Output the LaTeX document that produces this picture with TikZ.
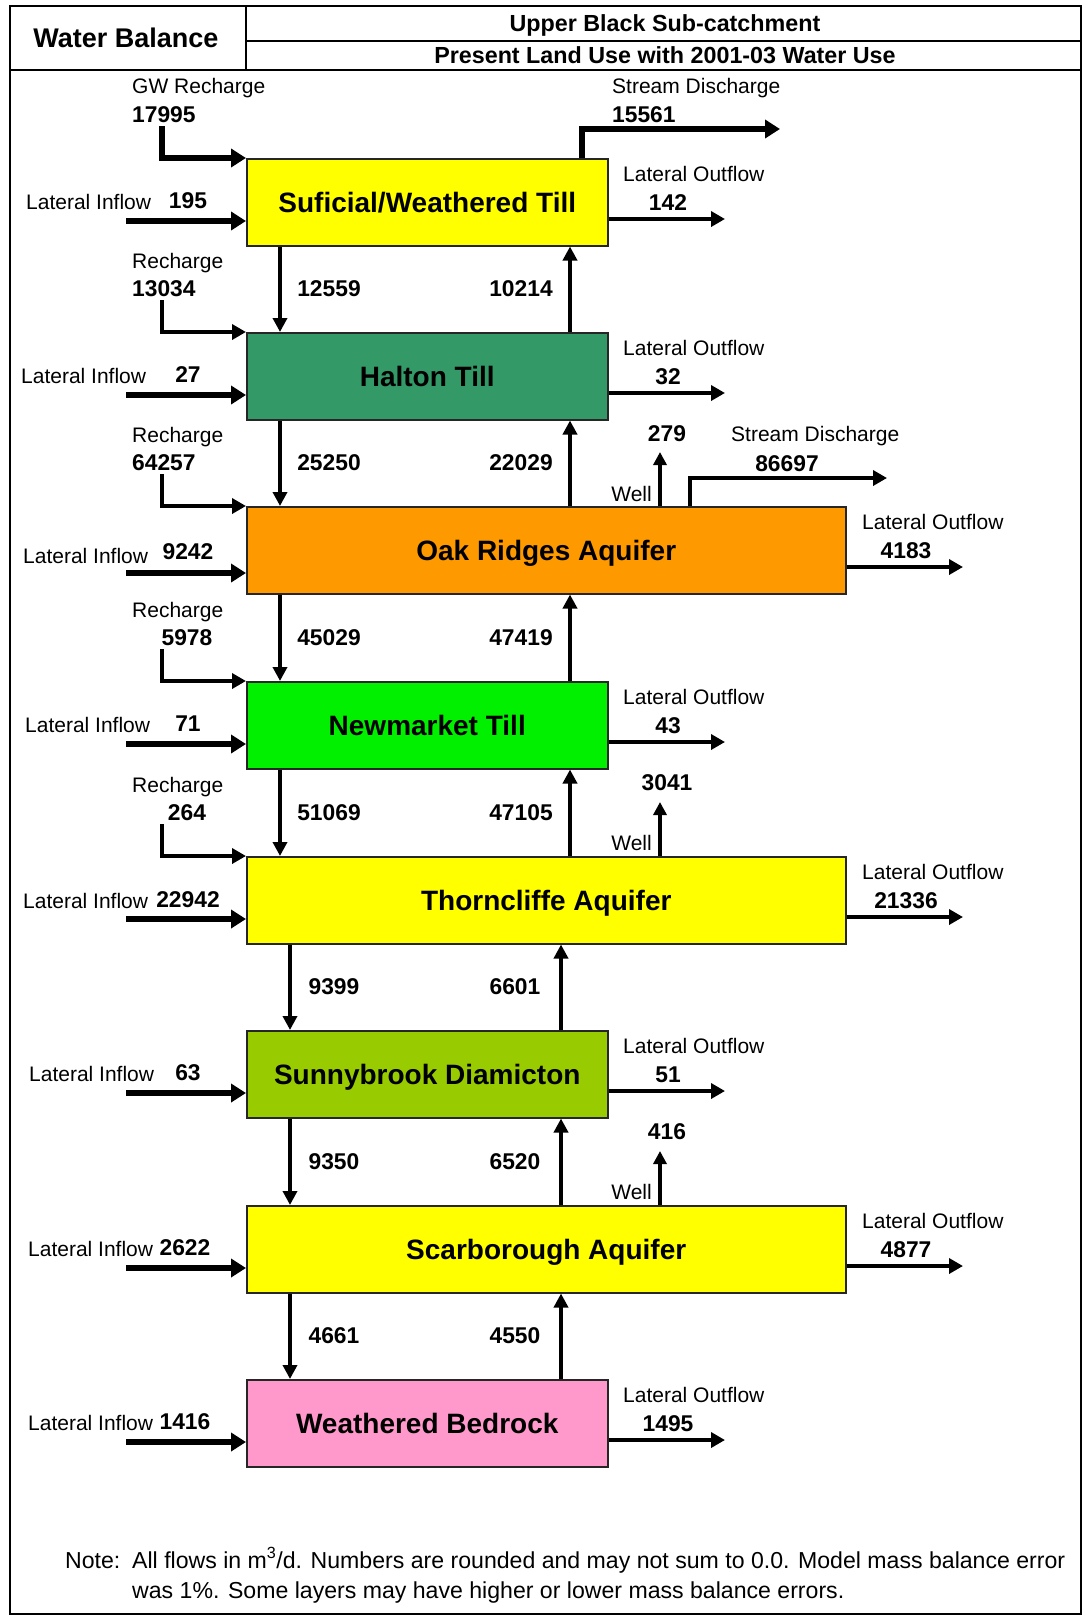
\documentclass[tikz,border=0pt]{standalone}
\usepackage{fontspec}
\setmainfont{Liberation Sans}
\usetikzlibrary{arrows.meta}
\definecolor{tillyellow}{HTML}{FFFF00}
\definecolor{haltongreen}{HTML}{339966}
\definecolor{oakorange}{HTML}{FF9900}
\definecolor{newgreen}{HTML}{00F000}
\definecolor{sunnygreen}{HTML}{99CC00}
\definecolor{rockpink}{HTML}{FF99CC}
\begin{document}
\begin{tikzpicture}[x=1pt,y=-1pt,
  lbl/.style={font=\fontsize{21}{25}\selectfont, inner sep=0pt, text height=15pt, text depth=0pt},
  num/.style={font=\fontsize{22.8}{27}\selectfont\bfseries, inner sep=0pt, text height=16.3pt, text depth=0pt},
  head/.style={font=\fontsize{23.3}{27}\selectfont\bfseries, inner sep=0pt, text height=16.7pt, text depth=0pt},
  layer/.style={draw=black!85, line width=1.5pt, inner sep=0pt, minimum height=87pt,
    anchor=north west, font=\fontsize{28}{32}\selectfont\bfseries, text height=20pt, text depth=0pt},
  narrow/.style={layer, minimum width=361pt},
  wide/.style={layer, minimum width=599pt},
  flowin/.style={line width=5.5pt, -{Triangle[length=15pt,width=18pt]}},
  flowout/.style={line width=4pt, -{Triangle[length=14pt,width=15pt]}},
  flowv/.style={line width=3.5pt, -{Triangle[length=14pt,width=14pt]}},
  wellflow/.style={line width=3.5pt, -{Triangle[length=13pt,width=13pt]}},
  rech/.style={line width=4pt, -{Triangle[length=14pt,width=15pt]}},
  notetext/.style={font=\fontsize{23.1}{28}\selectfont, inner sep=0pt, anchor=base west},
]
\useasboundingbox (0,0) rectangle (1085,1620);

% frame and title block
\draw[line width=2pt] (10,6) rectangle (1081,1614);
\draw[line width=2pt] (246,6) -- (246,70);
\draw[line width=2pt] (246,41) -- (1081,41);
\draw[line width=2pt] (10,70) -- (1081,70);
\node[font=\fontsize{27}{31}\selectfont\bfseries, inner sep=0pt, text height=19.3pt, text depth=0pt] (title) at (126,38) {Water Balance};
\node[head] (sub1) at (665,23.5) {Upper Black Sub-catchment};
\node[head] (sub2) at (665,55.5) {Present Land Use with 2001-03 Water Use};

% layers
\node[narrow, fill=tillyellow]  (s1) at (246,158)  {Suficial/Weathered Till};
\node[narrow, fill=haltongreen] (s2) at (246,332)  {Halton Till};
\node[wide,   fill=oakorange]   (s3) at (246,506)  {Oak Ridges Aquifer};
\node[narrow, fill=newgreen]    (s4) at (246,681)  {Newmarket Till};
\node[wide,   fill=tillyellow]  (s5) at (246,856)  {Thorncliffe Aquifer};
\node[narrow, fill=sunnygreen]  (s6) at (246,1030) {Sunnybrook Diamicton};
\node[wide,   fill=tillyellow]  (s7) at (246,1205) {Scarborough Aquifer};
\node[narrow, fill=rockpink]    (s8) at (246,1379) {Weathered Bedrock};

% columns of the vertical exchanges
\coordinate (dA) at (280,0);
\coordinate (uA) at (570,0);
\coordinate (dB) at (290,0);
\coordinate (uB) at (561,0);
\coordinate (wx) at (660,0);

% ground-water recharge and top stream discharge
\node[lbl, anchor=west] (gwl) at (132,86) {GW Recharge};
\node[num, anchor=west] (gwn) at (132,114) {17995};
\coordinate (gw) at (162,126);
\draw[flowin] (gw) |- (s1.north west);
\node[lbl, anchor=west] (sdl1) at (612,86) {Stream Discharge};
\node[num, anchor=west] (sdn1) at (612,114) {15561};
\coordinate (sdx1) at (582,0);
\coordinate (sd1) at (780,129);
\draw[flowin] (s1.north -| sdx1) |- (sd1);

% recharge into the lower layers
\node[lbl, anchor=west] (rl2) at (132,261) {Recharge};
\node[num, anchor=west] (rn2) at (132,288) {13034};
\coordinate (r2) at (162,300);
\draw[rech] (r2) |- (s2.north west);
\node[lbl, anchor=west] (rl3) at (132,435) {Recharge};
\node[num, anchor=west] (rn3) at (132,462) {64257};
\coordinate (r3) at (162,474);
\draw[rech] (r3) |- (s3.north west);
\node[lbl, anchor=west] (rl4) at (132,610) {Recharge};
\node[num] (rn4) at (187,637) {5978};
\coordinate (r4) at (162,649);
\draw[rech] (r4) |- (s4.north west);
\node[lbl, anchor=west] (rl5) at (132,785) {Recharge};
\node[num] (rn5) at (187,812) {264};
\coordinate (r5) at (162,824);
\draw[rech] (r5) |- (s5.north west);

% lateral inflows
\node[lbl, anchor=west] (il1) at (26,202) {Lateral Inflow};
\node[num] (in1n) at (188,200) {195};
\coordinate (i1) at (126,221);
\draw[flowin] (i1) -- (s1.west |- i1);
\node[lbl, anchor=west] (il2) at (21,376) {Lateral Inflow};
\node[num] (in2n) at (188,374) {27};
\coordinate (i2) at (126,395);
\draw[flowin] (i2) -- (s2.west |- i2);
\node[lbl, anchor=west] (il3) at (23,556) {Lateral Inflow};
\node[num] (in3n) at (188,551) {9242};
\coordinate (i3) at (126,573);
\draw[flowin] (i3) -- (s3.west |- i3);
\node[lbl, anchor=west] (il4) at (25,725) {Lateral Inflow};
\node[num] (in4n) at (188,723) {71};
\coordinate (i4) at (126,744);
\draw[flowin] (i4) -- (s4.west |- i4);
\node[lbl, anchor=west] (il5) at (23,901) {Lateral Inflow};
\node[num] (in5n) at (188,899) {22942};
\coordinate (i5) at (126,919);
\draw[flowin] (i5) -- (s5.west |- i5);
\node[lbl, anchor=west] (il6) at (29,1074) {Lateral Inflow};
\node[num] (in6n) at (188,1072) {63};
\coordinate (i6) at (126,1093);
\draw[flowin] (i6) -- (s6.west |- i6);
\node[lbl, anchor=west] (il7) at (28,1249) {Lateral Inflow};
\node[num] (in7n) at (185,1247) {2622};
\coordinate (i7) at (126,1268);
\draw[flowin] (i7) -- (s7.west |- i7);
\node[lbl, anchor=west] (il8) at (28,1423) {Lateral Inflow};
\node[num] (in8n) at (185,1421) {1416};
\coordinate (i8) at (126,1442);
\draw[flowin] (i8) -- (s8.west |- i8);

% lateral outflows
\node[lbl, anchor=west] (ol1) at (623,174) {Lateral Outflow};
\node[num] (on1) at (668,202) {142};
\coordinate (o1) at (725,219);
\draw[flowout] (s1.east |- o1) -- (o1);
\node[lbl, anchor=west] (ol2) at (623,348) {Lateral Outflow};
\node[num] (on2) at (668,376) {32};
\coordinate (o2) at (725,393);
\draw[flowout] (s2.east |- o2) -- (o2);
\node[lbl, anchor=west] (ol3) at (862,522) {Lateral Outflow};
\node[num] (on3) at (906,550) {4183};
\coordinate (o3) at (963,567);
\draw[flowout] (s3.east |- o3) -- (o3);
\node[lbl, anchor=west] (ol4) at (623,697) {Lateral Outflow};
\node[num] (on4) at (668,725) {43};
\coordinate (o4) at (725,742);
\draw[flowout] (s4.east |- o4) -- (o4);
\node[lbl, anchor=west] (ol5) at (862,872) {Lateral Outflow};
\node[num] (on5) at (906,900) {21336};
\coordinate (o5) at (963,917);
\draw[flowout] (s5.east |- o5) -- (o5);
\node[lbl, anchor=west] (ol6) at (623,1046) {Lateral Outflow};
\node[num] (on6) at (668,1074) {51};
\coordinate (o6) at (725,1091);
\draw[flowout] (s6.east |- o6) -- (o6);
\node[lbl, anchor=west] (ol7) at (862,1221) {Lateral Outflow};
\node[num] (on7) at (906,1249) {4877};
\coordinate (o7) at (963,1266);
\draw[flowout] (s7.east |- o7) -- (o7);
\node[lbl, anchor=west] (ol8) at (623,1395) {Lateral Outflow};
\node[num] (on8) at (668,1423) {1495};
\coordinate (o8) at (725,1440);
\draw[flowout] (s8.east |- o8) -- (o8);

% wells and the second stream discharge
\coordinate (w3) at (660,452);
\draw[wellflow] (s3.north -| wx) -- (w3);
\node[num] (wn3) at (667,433) {279};
\node[lbl, anchor=east] (wl3) at (652,494) {Well};
\coordinate (sdx3) at (690,0);
\coordinate (sd3) at (887,478);
\draw[flowout] (s3.north -| sdx3) |- (sd3);
\node[lbl, anchor=west] (sdl3) at (731,434) {Stream Discharge};
\node[num] (sdn3) at (787,463) {86697};
\coordinate (w5) at (660,802);
\draw[wellflow] (s5.north -| wx) -- (w5);
\node[num] (wn5) at (667,782) {3041};
\node[lbl, anchor=east] (wl5) at (652,843) {Well};
\coordinate (w7) at (660,1151);
\draw[wellflow] (s7.north -| wx) -- (w7);
\node[num] (wn7) at (667,1131) {416};
\node[lbl, anchor=east] (wl7) at (652,1192) {Well};

% exchanges between adjacent layers
\draw[flowv] (s1.south -| dA) -- (s2.north -| dA);
\draw[flowv] (s2.north -| uA) -- (s1.south -| uA);
\node[num] (d12) at (329,288.5) {12559};
\node[num] (u12) at (521,288.5) {10214};
\draw[flowv] (s2.south -| dA) -- (s3.north -| dA);
\draw[flowv] (s3.north -| uA) -- (s2.south -| uA);
\node[num] (d23) at (329,462.5) {25250};
\node[num] (u23) at (521,462.5) {22029};
\draw[flowv] (s3.south -| dA) -- (s4.north -| dA);
\draw[flowv] (s4.north -| uA) -- (s3.south -| uA);
\node[num] (d34) at (329,637.5) {45029};
\node[num] (u34) at (521,637.5) {47419};
\draw[flowv] (s4.south -| dA) -- (s5.north -| dA);
\draw[flowv] (s5.north -| uA) -- (s4.south -| uA);
\node[num] (d45) at (329,812.5) {51069};
\node[num] (u45) at (521,812.5) {47105};
\draw[flowv] (s5.south -| dB) -- (s6.north -| dB);
\draw[flowv] (s6.north -| uB) -- (s5.south -| uB);
\node[num] (d56) at (334,986.5) {9399};
\node[num] (u56) at (515,986.5) {6601};
\draw[flowv] (s6.south -| dB) -- (s7.north -| dB);
\draw[flowv] (s7.north -| uB) -- (s6.south -| uB);
\node[num] (d67) at (334,1161) {9350};
\node[num] (u67) at (515,1161) {6520};
\draw[flowv] (s7.south -| dB) -- (s8.north -| dB);
\draw[flowv] (s8.north -| uB) -- (s7.south -| uB);
\node[num] (d78) at (334,1335.5) {4661};
\node[num] (u78) at (515,1335.5) {4550};

% footnote
\node[notetext] (notehd) at (65,1568) {Note:};
\node[notetext] (note1) at (132,1568) {All flows in m\textsuperscript{3}/d. Numbers are rounded and may not sum to 0.0. Model mass balance error};
\node[notetext] (note2) at (132,1598) {was 1\%. Some layers may have higher or lower mass balance errors.};
\end{tikzpicture}
\end{document}
